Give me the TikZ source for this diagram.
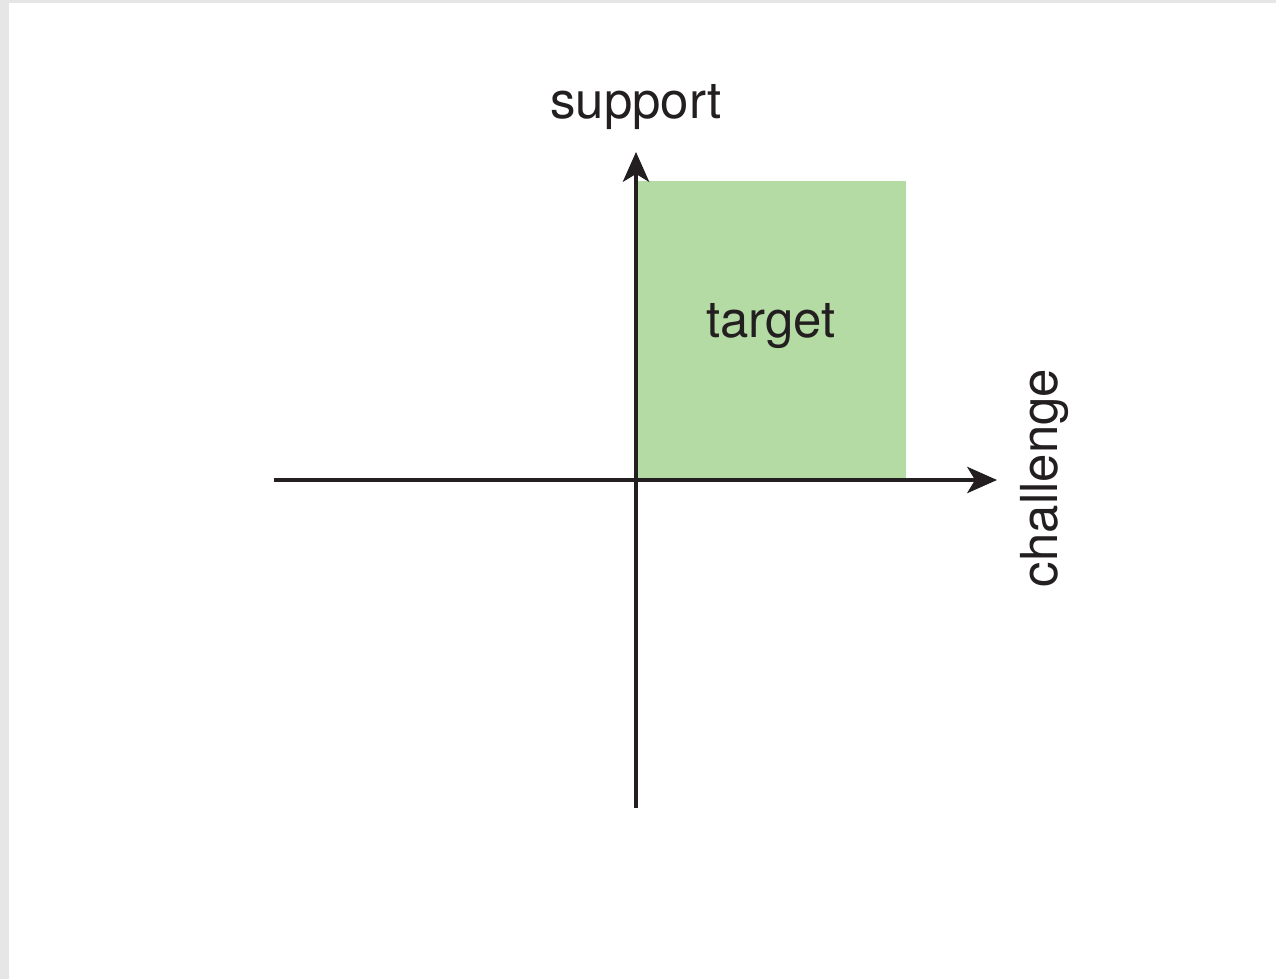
\documentclass[tikz,border=0pt]{standalone}
\usepackage{fontspec}
\setmainfont{TeX Gyre Heros}
\usetikzlibrary{arrows.meta}
\definecolor{targetgreen}{HTML}{B4DBA4}
\definecolor{ink}{HTML}{231F20}
\definecolor{edgegray}{HTML}{E6E6E6}
\begin{document}
\begin{tikzpicture}[x=0.02cm,y=-0.02cm,
    axis/.style={draw=ink,line width=1.9pt,-{Stealth[length=17pt,width=15pt,inset=4.5pt]}},
    axislabel/.style={text=ink,font=\fontsize{29}{34}\selectfont,inner sep=0pt}]
    \useasboundingbox (0,0) rectangle (1276,979);
    \fill [white] (0,0) rectangle (1276,979);
    \fill [edgegray] (0,0) rectangle (9,979);
    \fill [edgegray] (9,0) rectangle (1276,3);
    % quadrant
    \fill [targetgreen] (636,181) rectangle (906,480);
    \node [axislabel] (target) at (771,326) {target};
    % axes
    \coordinate (origin) at (636,480);
    \coordinate (xstart) at (274,480);
    \coordinate (xend) at (997,480);
    \coordinate (ystart) at (636,808);
    \coordinate (yend) at (636,152);
    \draw [axis] (xstart) -- (xend);
    \draw [axis] (ystart) -- (yend);
    \node [axislabel] (support) at (636,107) {support};
    \node [axislabel,rotate=90] (challenge) at (1044,478) {challenge};
\end{tikzpicture}
\end{document}
